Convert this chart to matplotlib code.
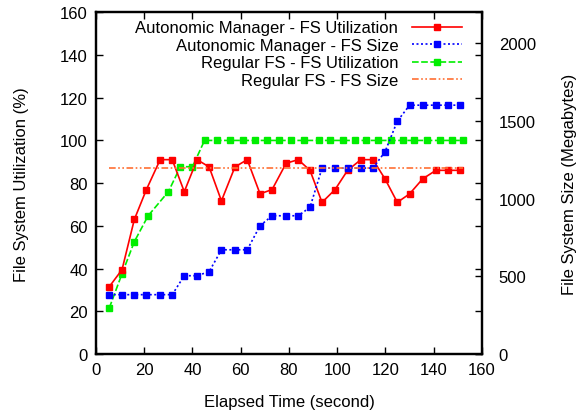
import matplotlib
matplotlib.use("Agg")
import matplotlib.pyplot as plt

plt.rcParams['font.family'] = ['Liberation Sans', 'DejaVu Sans']

# Autonomic manager run (time in s)
am_time = [5.5, 10.8, 15.9, 20.9, 26.6, 31.6, 36.6, 41.9, 46.9, 52.0,
           57.6, 62.7, 68.0, 73.0, 78.8, 83.8, 88.7, 93.7, 99.1, 104.3,
           109.8, 114.8, 119.8, 124.9, 130.0, 135.4, 140.9, 146.0, 150.9]
am_util = [31.5, 39.5, 63, 77, 91, 91, 76, 91, 87.6, 71.7,
           87.6, 91, 75, 77, 89.3, 91, 86, 71, 77, 86,
           91, 91, 82, 71, 75, 82, 86, 86, 86]
am_size = [382, 382, 382, 382, 382, 382, 504, 504, 530, 671,
           671, 671, 826, 890, 890, 890, 944, 1197, 1197, 1197,
           1197, 1197, 1302, 1499, 1602, 1602, 1602, 1602, 1602]

# Regular FS run
reg_time = [5.5, 10.8, 15.9, 21.6, 30.0, 35.0, 40.0, 45.0, 50.0, 55.7,
            61.0, 66.0, 71.0, 76.0, 81.0, 86.4, 92.4, 97.2, 102.2, 107.2,
            112.1, 117.1, 122.1, 127.1, 132.0, 137.0, 142.4, 147.4, 152.3]
reg_util = [21.5, 37.6, 52.6, 64.7, 76, 87.7, 87.7, 100, 100, 100,
            100, 100, 100, 100, 100, 100, 100, 100, 100, 100,
            100, 100, 100, 100, 100, 100, 100, 100, 100]
reg_size_time = [5.5, 152.3]
reg_size = [1197, 1197]

fig = plt.figure(figsize=(5.81, 4.14), dpi=100)
ax = fig.add_axes([0.1652, 0.1425, 0.6644, 0.8254])
ax2 = ax.twinx()

l1, = ax.plot(am_time, am_util, color='#ff0000', lw=1.2, marker='s', ms=4,
              label='Autonomic Manager - FS Utilization', zorder=5)
l2, = ax2.plot(am_time, am_size, color='#0000ff', lw=1.2, ls=(0, (1.2, 1.5)),
               marker='s', ms=4, label='Autonomic Manager - FS Size')
l3, = ax.plot(reg_time, reg_util, color='#00ee00', lw=1.2, ls=(0, (4, 1.5)),
              marker='s', ms=4, label='Regular FS - FS Utilization')
l4, = ax2.plot(reg_size_time, reg_size, color='#ff7033', lw=1.2,
               ls=(0, (4, 1.5, 1, 1.5, 1, 1.5)), label='Regular FS - FS Size')

ax.set_xlim(0, 160)
ax.set_ylim(0, 160)
ax2.set_ylim(0, 2200)
ax.set_xticks(range(0, 161, 20))
ax.set_yticks(range(0, 161, 20))
ax2.set_yticks(range(0, 2001, 500))

for a in (ax, ax2):
    for s in a.spines.values():
        s.set_linewidth(1.6)
ax.tick_params(axis='both', direction='in', length=5, width=1, labelsize=12,
               top=True, right=True, labelright=False, pad=6)
ax2.tick_params(axis='y', direction='in', length=5, width=1, labelsize=12, pad=12)

ax.set_xlabel('Elapsed Time (second)', fontsize=12, labelpad=12)
ax.set_ylabel('File System Utilization (%)', fontsize=12, labelpad=22)
ax2.set_ylabel('File System Size (Megabytes)', fontsize=12, rotation=90, labelpad=19)

ax2.legend(handles=[l1, l2, l3, l4], loc='upper right', frameon=False,
           markerfirst=False, fontsize=12, handlelength=3.0, handletextpad=0.8,
           labelspacing=0.15, bbox_to_anchor=(0.975, 1.008), borderaxespad=0.25)

fig.savefig('out.png', dpi=100)
